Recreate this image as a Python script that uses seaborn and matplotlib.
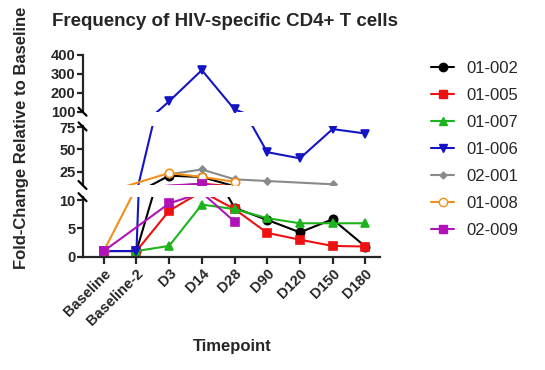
import matplotlib
matplotlib.use('Agg')
import matplotlib.pyplot as plt
from matplotlib.lines import Line2D
import numpy as np
import pandas as pd
import seaborn as sns

TIMEPOINTS = ['Baseline', 'Baseline-2', 'D3', 'D14', 'D28', 'D90', 'D120', 'D150', 'D180']
nan = np.nan

# fold-change per subject, one value per timepoint (nan = not measured)
S01_002 = [1, 1, 20.5, 19.0, 8.6, 6.5, 4.3, 6.6, 1.8]
S01_005 = [1, 1, 8.1, 11.5, 8.4, 4.2, 3.0, 1.9, 1.8]
S01_007 = [1, 1, 1.9, 9.2, 8.4, 6.8, 5.9, 5.9, 5.9]
S01_006 = [1, 1, 155, 320, 112, 47, 40, 73, 68]
S02_001 = [nan, nan, 22.0, 27.5, 16.4, 14.5, nan, 10.8, nan]
S01_008 = [1, nan, 23.5, 19.0, 13.7, nan, nan, nan, nan]
S02_009 = [1, nan, 9.4, 11.3, 6.2, nan, nan, nan, nan]

SUBJECTS = ['01-002', '01-005', '01-007', '01-006', '02-001', '01-008', '02-009']
VALUES = [S01_002, S01_005, S01_007, S01_006, S02_001, S01_008, S02_009]

STYLES = {
    '01-002': dict(color='#000000', marker='o', ms=6.0, mfc='#000000'),
    '01-005': dict(color='#ee1111', marker='s', ms=5.5, mfc='#ee1111'),
    '01-007': dict(color='#1db31d', marker='^', ms=6.0, mfc='#1db31d'),
    '01-006': dict(color='#1414c4', marker='v', ms=6.0, mfc='#1414c4'),
    '02-001': dict(color='#8a8a8a', marker='D', ms=3.5, mfc='#8a8a8a'),
    '01-008': dict(color='#f0901a', marker='o', ms=6.0, mfc='white'),
    '02-009': dict(color='#b012b8', marker='s', ms=5.5, mfc='#b012b8'),
}

frames = []
for subject, vals in zip(SUBJECTS, VALUES):
    frames.append(pd.DataFrame({'subject': subject,
                                'pos': np.arange(len(TIMEPOINTS)),
                                'value': vals}))
long = pd.concat(frames).dropna(subset=['value'])

sns.set_theme(style='ticks')
plt.rcParams['font.family'] = ['Liberation Sans', 'DejaVu Sans']
plt.rcParams['font.weight'] = 'bold'

fig = plt.figure(figsize=(5.45, 3.7), dpi=100)
W, H = 545, 370
left, right = 82.5, 380

# (ylim, top px, bottom px, ticks)
segments = [
    ((100, 400), 55, 111.7, [100, 200, 300, 400]),
    ((10, 76), 126.4, 185, [25, 50, 75]),
    ((0, 10.5), 197.2, 256.7, [0, 5, 10]),
]

axes = []
for ylim, top_px, bot_px, ticks in segments:
    ax = fig.add_axes([left / W, (H - bot_px) / H, (right - left) / W, (bot_px - top_px) / H])
    lo, hi = ylim
    for subject in SUBJECTS:
        st = STYLES[subject]
        sub = long[long['subject'] == subject].sort_values('pos')
        # markers only for points that fall inside this segment
        shown = [i for i, v in enumerate(sub['value']) if lo <= v <= hi]
        sns.lineplot(data=sub, x='pos', y='value', ax=ax, color=st['color'],
                     marker=st['marker'], markersize=st['ms'],
                     markerfacecolor=st['mfc'], markeredgecolor=st['color'],
                     markeredgewidth=1.2, linewidth=1.5, errorbar=None,
                     markevery=shown, legend=False, clip_on=True)
    ax.set_ylim(*ylim)
    ax.set_xlim(-0.65, 8.45)
    ax.set_yticks(ticks)
    ax.set_ylabel('')
    ax.set_xlabel('')
    sns.despine(ax=ax)
    ax.spines['left'].set_linewidth(1.6)
    ax.tick_params(axis='y', length=4, width=1.6, labelsize=10.5, pad=1)
    for lab in ax.get_yticklabels():
        lab.set_fontweight('bold')
    axes.append(ax)

ax_top, ax_mid, ax_bot = axes
for ax in (ax_top, ax_mid):
    ax.spines['bottom'].set_visible(False)
    ax.set_xticks([])

ax_bot.spines['bottom'].set_linewidth(1.6)
ax_bot.set_xticks(range(len(TIMEPOINTS)))
ax_bot.set_xticklabels(TIMEPOINTS, rotation=45, ha='right', va='top',
                       rotation_mode='anchor', fontsize=10.5, fontweight='bold')
ax_bot.tick_params(axis='x', length=5, width=1.6, pad=2)


# break marks on the y-axis
def break_mark(y_px):
    x0 = left
    fig.add_artist(Line2D([(x0 - 4) / W, (x0 + 4) / W],
                          [(H - y_px + 4) / H, (H - y_px - 4) / H],
                          color='black', lw=1.6, transform=fig.transFigure))


for y_px in (111.7, 126.4, 185, 197.2):
    break_mark(y_px)

fig.text(225 / W, (H - 22) / H, 'Frequency of HIV-specific CD4+ T cells',
         ha='center', va='center', fontsize=13.5, fontweight='bold')
fig.text(22 / W, (H - 138) / H, 'Fold-Change Relative to Baseline',
         ha='center', va='center', rotation=90, fontsize=12, fontweight='bold')
fig.text(232 / W, (H - 346) / H, 'Timepoint', ha='center', va='center',
         fontsize=12, fontweight='bold')

handles = []
for subject in SUBJECTS:
    st = STYLES[subject]
    handles.append(Line2D([], [], color=st['color'], marker=st['marker'],
                          markersize=st['ms'], markerfacecolor=st['mfc'],
                          markeredgecolor=st['color'], linewidth=1.5))
fig.legend(handles, SUBJECTS, loc='upper left',
           bbox_to_anchor=(431 / W, (H - 61) / H), frameon=False,
           prop={'size': 12, 'weight': 'normal'}, handlelength=1.4,
           handletextpad=0.7, labelspacing=0.72, borderpad=0, borderaxespad=0)

fig.savefig('out.png', dpi=100)
